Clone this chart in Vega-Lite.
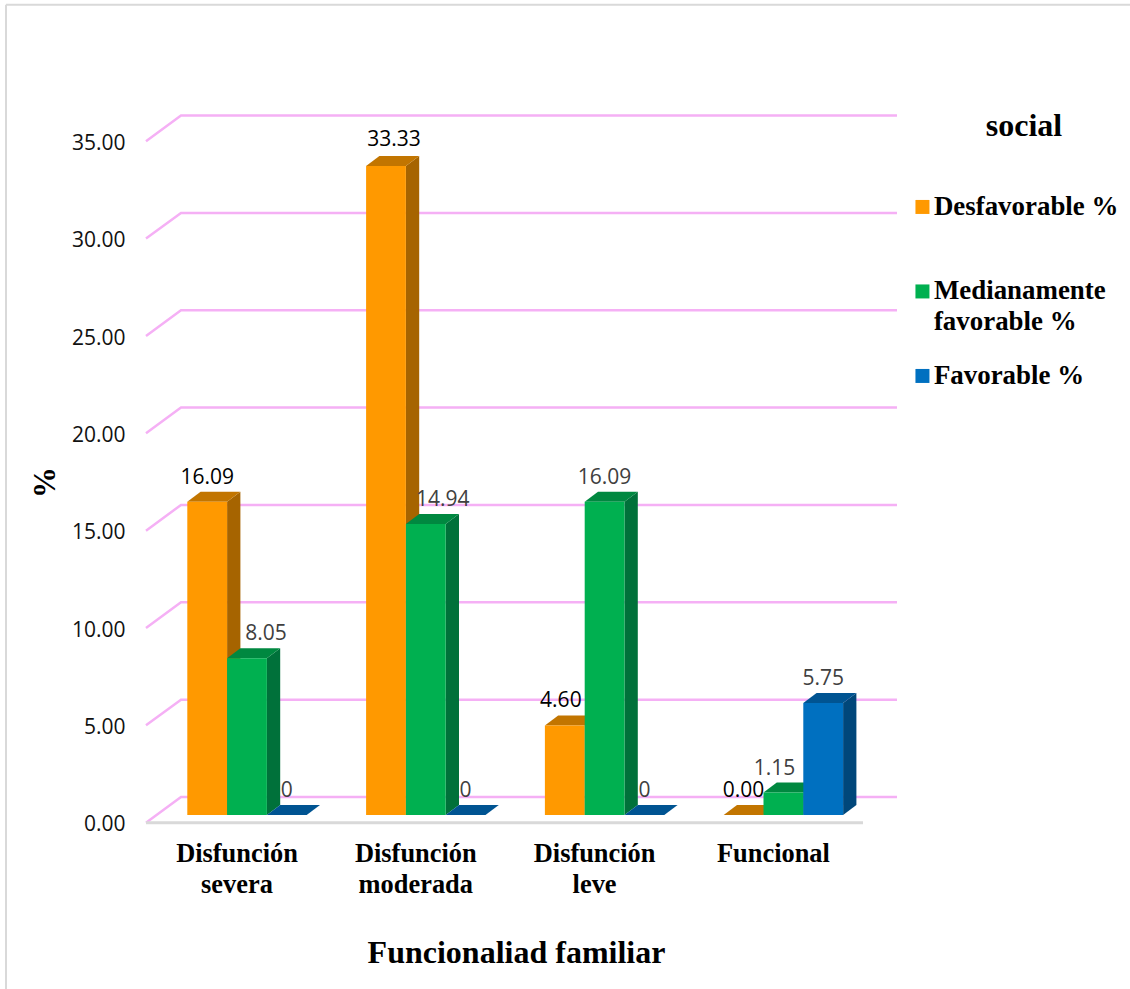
{
  "$schema": "https://vega.github.io/schema/vega-lite/v6.json",
  "width": 1130,
  "height": 989,
  "padding": 0,
  "autosize": {"type": "none"},
  "background": "white",
  "datasets": {
    "bars": [
      {"cat": "Disfunción severa", "serie": "Desfavorable %", "value": 16.09, "label": "16.09"},
      {"cat": "Disfunción severa", "serie": "Medianamente favorable %", "value": 8.05, "label": "8.05"},
      {"cat": "Disfunción severa", "serie": "Favorable %", "value": 0, "label": "0"},
      {"cat": "Disfunción moderada", "serie": "Desfavorable %", "value": 33.33, "label": "33.33"},
      {"cat": "Disfunción moderada", "serie": "Medianamente favorable %", "value": 14.94, "label": "14.94"},
      {"cat": "Disfunción moderada", "serie": "Favorable %", "value": 0, "label": "0"},
      {"cat": "Disfunción leve", "serie": "Desfavorable %", "value": 4.6, "label": "4.60"},
      {"cat": "Disfunción leve", "serie": "Medianamente favorable %", "value": 16.09, "label": "16.09"},
      {"cat": "Disfunción leve", "serie": "Favorable %", "value": 0, "label": "0"},
      {"cat": "Funcional", "serie": "Desfavorable %", "value": 0, "label": "0.00"},
      {"cat": "Funcional", "serie": "Medianamente favorable %", "value": 1.15, "label": "1.15"},
      {"cat": "Funcional", "serie": "Favorable %", "value": 5.75, "label": "5.75"}
    ],
    "ticks": [
      {"tick": 0}, {"tick": 5}, {"tick": 10}, {"tick": 15},
      {"tick": 20}, {"tick": 25}, {"tick": 30}, {"tick": 35}
    ]
  },
  "data": {"name": "bars"},
  "transform": [
    {"calculate": "indexof(['Disfunción severa','Disfunción moderada','Disfunción leve','Funcional'], datum.cat)", "as": "ci"},
    {"calculate": "indexof(['Desfavorable %','Medianamente favorable %','Favorable %'], datum.serie)", "as": "si"},
    {"calculate": "datum.ci + (datum.si - 1.5) * 0.2226", "as": "xl"},
    {"calculate": "datum.xl + 0.2226", "as": "xr"},
    {"calculate": "datum.cat + datum.serie", "as": "bar"}
  ],
  "layer": [
    {
      "data": {"name": "ticks"},
      "transform": [
        {"calculate": "[0,1,2]", "as": "k"},
        {"flatten": ["k"]},
        {"calculate": "[-0.5649,-0.3691,3.6353][datum.k]", "as": "gx"},
        {"calculate": "datum.tick + (datum.k == 0 ? -0.395 : 0.925)", "as": "gy"}
      ],
      "mark": {"type": "line", "color": "#F5B0F5", "strokeWidth": 2.5, "strokeCap": "butt"},
      "encoding": {
        "x": {
          "field": "gx",
          "type": "quantitative",
          "scale": {"domain": [-1.3814, 4.9385], "nice": false, "zero": false},
          "axis": {
            "orient": "bottom",
            "offset": -160,
            "values": [0, 1, 2, 3],
            "grid": false,
            "domain": false,
            "ticks": false,
            "labelExpr": "[['Disfunción','severa'],['Disfunción','moderada'],['Disfunción','leve'],['Funcional']][datum.value]",
            "labelFont": "Liberation Serif",
            "labelFontSize": 26.4,
            "labelFontWeight": "bold",
            "labelColor": "#000000",
            "labelBaseline": "middle",
            "labelPadding": 24,
            "labelLineHeight": 31,
            "labelOffset": -10.5,
            "labelOverlap": false,
            "labelFlush": false,
            "title": "Funcionaliad familiar",
            "titleFont": "Liberation Serif",
            "titleFontSize": 32,
            "titleFontWeight": "bold",
            "titleColor": "#000000",
            "titleX": 516,
            "titleY": 123,
            "titleAlign": "center",
            "titleBaseline": "middle"
          }
        },
        "y": {
          "field": "gy",
          "type": "quantitative",
          "scale": {"domain": [-8.937, 41.859], "nice": false, "zero": false},
          "axis": {
            "orient": "left",
            "offset": -125,
            "values": [0, 5, 10, 15, 20, 25, 30, 35],
            "format": ".2f",
            "grid": false,
            "domain": false,
            "ticks": false,
            "labelFont": "Open Sans",
            "labelFontSize": 21,
            "labelColor": "#111111",
            "labelPadding": 0,
            "labelOffset": 10,
            "labelBaseline": "middle",
            "title": "%",
            "titleFont": "Liberation Serif",
            "titleFontSize": 31,
            "titleFontWeight": "bold",
            "titleColor": "#000000",
            "titleAngle": 270,
            "titleX": -80,
            "titleY": 482,
            "titleAlign": "center",
            "titleBaseline": "middle"
          }
        },
        "detail": {"field": "tick"},
        "order": {"field": "k"}
      }
    },
    {
      "data": {"values": [{"part": "floor"}]},
      "mark": {"type": "rule", "color": "#D9D9D9", "strokeWidth": 3},
      "encoding": {
        "x": {"datum": -0.5649},
        "x2": {"datum": 3.4452},
        "y": {"datum": -0.395}
      }
    },
    {
      "data": {"values": [{"part": "frame left"}]},
      "mark": {"type": "rule", "color": "#D9D9D9", "strokeWidth": 2},
      "encoding": {
        "x": {"datum": -1.3479},
        "y": {"datum": 41.62},
        "y2": {"datum": -8.937}
      }
    },
    {
      "data": {"values": [{"part": "frame top"}]},
      "mark": {"type": "rule", "color": "#D9D9D9", "strokeWidth": 2},
      "encoding": {
        "x": {"datum": -1.3479},
        "x2": {"datum": 4.9385},
        "y": {"datum": 41.62}
      }
    },
    {
      "transform": [
        {"calculate": "[0,1]", "as": "k"},
        {"flatten": ["k"]},
        {"calculate": "datum.xr + datum.k * 0.0744", "as": "vx"},
        {"calculate": "datum.value + datum.k * 0.514", "as": "vy"},
        {"calculate": "datum.k * 0.514", "as": "vy2"},
        {"calculate": "['#A66400','#00713A','#00477A'][datum.si]", "as": "shade"}
      ],
      "mark": {"type": "area", "orient": "vertical"},
      "encoding": {
        "x": {"field": "vx", "type": "quantitative"},
        "y": {"field": "vy", "type": "quantitative"},
        "y2": {"field": "vy2"},
        "color": {"field": "shade", "type": "nominal", "scale": null},
        "detail": {"field": "bar"}
      }
    },
    {
      "transform": [
        {"calculate": "[0,1,2,3]", "as": "k"},
        {"flatten": ["k"]},
        {"calculate": "[datum.xl, datum.xl + 0.0744, datum.xr, datum.xr + 0.0744][datum.k]", "as": "vx"},
        {"calculate": "datum.value + (datum.k == 3 ? 0.514 : 0)", "as": "vy"},
        {"calculate": "datum.value + (datum.k == 0 ? 0 : 0.514)", "as": "vy2"},
        {"calculate": "['#C27500','#008840','#005492'][datum.si]", "as": "shade"}
      ],
      "mark": {"type": "area"},
      "encoding": {
        "x": {"field": "vx", "type": "quantitative"},
        "y": {"field": "vy", "type": "quantitative"},
        "y2": {"field": "vy2"},
        "fill": {"field": "shade", "type": "nominal", "scale": null},
        "detail": {"field": "bar"}
      }
    },
    {
      "mark": {"type": "rect"},
      "encoding": {
        "x": {"field": "xl", "type": "quantitative"},
        "x2": {"field": "xr"},
        "y": {"field": "value", "type": "quantitative"},
        "y2": {"datum": 0},
        "color": {
          "field": "serie",
          "type": "nominal",
          "scale": {
            "domain": ["Desfavorable %", "Medianamente favorable %", "Favorable %"],
            "range": ["#FF9900", "#00B050", "#0070C0"]
          },
          "legend": {
            "orient": "none",
            "legendX": 909,
            "legendY": 193.5,
            "direction": "vertical",
            "columns": 1,
            "gridAlign": "all",
            "padding": 0,
            "title": null,
            "symbolType": "square",
            "symbolSize": 196,
            "symbolStrokeWidth": 0,
            "labelFont": "Liberation Serif",
            "labelFontSize": 26.9,
            "labelFontWeight": "bold",
            "labelColor": "#000000",
            "labelLimit": 300,
            "labelOffset": -2,
            "rowPadding": 25.5,
            "labelExpr": "datum.label == 'Medianamente favorable %' ? ['Medianamente','favorable %'] : datum.label"
          }
        }
      }
    },
    {
      "data": {"values": [{"heading": "social"}]},
      "mark": {"type": "text", "font": "Liberation Serif", "fontSize": 32, "fontWeight": "bold", "color": "#000000", "align": "center", "baseline": "middle"},
      "encoding": {
        "x": {"datum": 4.3456},
        "y": {"datum": 35.39},
        "text": {"field": "heading", "type": "nominal"}
      }
    },
    {
      "transform": [
        {"calculate": "({'33.33':0.045,'8.05':0.106,'14.94':0.095,'4.60':-0.022,'1.15':-0.05})[datum.label] || 0", "as": "shift"},
        {"calculate": "(datum.xl + datum.xr) / 2 + datum.shift", "as": "tx"},
        {"calculate": "datum.value + (datum.value > 30 ? 0.1 : 0)", "as": "ty"}
      ],
      "mark": {"type": "text", "font": "Open Sans", "fontSize": 21, "baseline": "middle", "align": "center", "dy": -24},
      "encoding": {
        "x": {"field": "tx", "type": "quantitative"},
        "y": {"field": "ty", "type": "quantitative"},
        "text": {"field": "label", "type": "nominal"},
        "color": {
          "condition": {"test": "datum.serie == 'Desfavorable %'", "value": "#000000"},
          "value": "#404040"
        }
      }
    }
  ],
  "config": {
    "view": {"stroke": null},
    "style": {"guide-label": {"lineHeight": 31}}
  }
}
